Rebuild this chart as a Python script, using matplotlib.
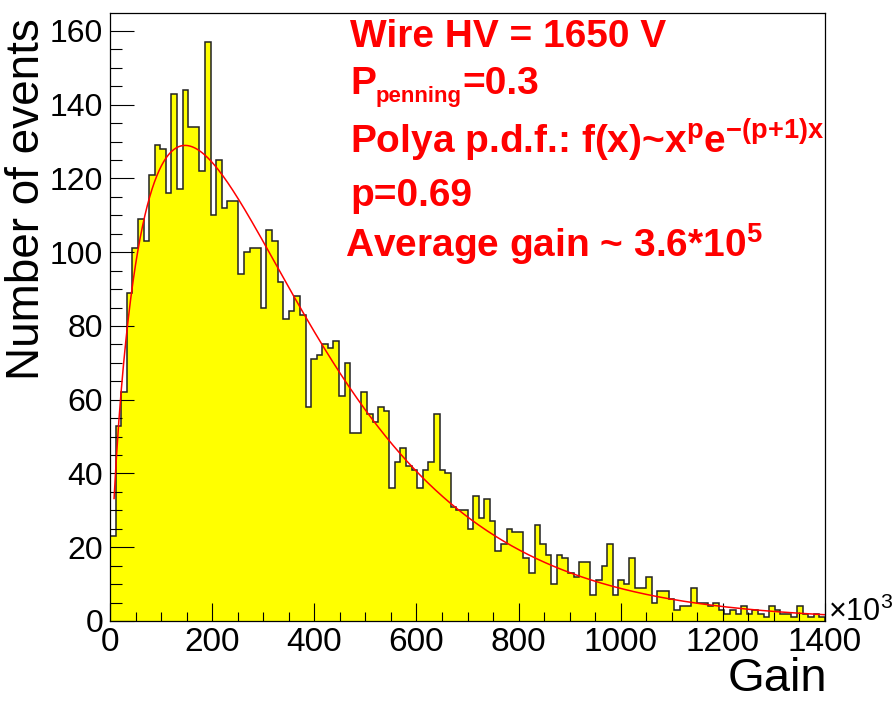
import numpy as np
import matplotlib
matplotlib.use("Agg")
import matplotlib.pyplot as plt
from matplotlib.ticker import MultipleLocator

# gain histogram: 128 bins between 0 and 1400 (x10^3)
n_bins = 128
gain_min = 0
gain_max = 1400
counts = [23, 53, 62, 89, 101, 109, 103, 121, 129, 128,
          116, 143, 117, 144, 134, 134, 122, 157, 110, 125,
          112, 114, 114, 94, 100, 101, 101, 85, 106, 103,
          92, 82, 84, 88, 83, 58, 71, 72, 75, 74,
          76, 61, 70, 51, 51, 62, 56, 54, 58, 57,
          36, 43, 47, 42, 41, 36, 41, 43, 56, 41,
          40, 31, 30, 30, 25, 34, 28, 33, 27, 19,
          21, 25, 24, 24, 17, 13, 26, 21, 18, 10,
          18, 17, 13, 12, 16, 16, 7, 11, 15, 21,
          7, 11, 10, 17, 9, 9, 12, 5, 8, 8,
          6, 3, 4, 4, 9, 5, 5, 4, 5, 3,
          2, 3, 2, 4, 2, 3, 2, 1, 4, 3,
          2, 2, 1, 4, 2, 1, 2, 1]

# polya fit
polya_p = 0.69
mean_gain = 360
polya_norm = 477
fit_start = 8

edges = np.linspace(gain_min, gain_max, n_bins + 1)

plt.rcParams['font.family'] = ['Liberation Sans', 'DejaVu Sans']
plt.rcParams['mathtext.fontset'] = 'custom'
plt.rcParams['mathtext.rm'] = 'Liberation Sans'
plt.rcParams['mathtext.it'] = 'Liberation Sans'
plt.rcParams['mathtext.bf'] = 'Liberation Sans:bold'

W, H = 896, 702
fig = plt.figure(figsize=(W / 100, H / 100), dpi=100)
ax = fig.add_axes([110 / W, (H - 621) / H, 715 / W, 608 / H])

ax.stairs(counts, edges, fill=True, color='#ffff00', lw=0)
ax.stairs(counts, edges, color='#222222', lw=1.1)

xf = np.linspace(fit_start, gain_max, 600)
t = xf / mean_gain
ax.plot(xf, polya_norm * t ** polya_p * np.exp(-(polya_p + 1) * t), color='red', lw=1.1)

ax.set_xlim(gain_min, gain_max)
ax.set_ylim(0, 1.05 * max(counts))

ax.xaxis.set_major_locator(MultipleLocator(200))
ax.xaxis.set_minor_locator(MultipleLocator(50))
ax.yaxis.set_major_locator(MultipleLocator(20))
ax.yaxis.set_minor_locator(MultipleLocator(5))
ax.tick_params(axis='both', which='both', direction='in', top=False, right=False, width=0.8, color='black')
ax.tick_params(axis='y', which='major', length=17, labelsize=23, pad=5)
ax.tick_params(axis='y', which='minor', length=8.5)
ax.tick_params(axis='x', which='major', length=13, labelsize=24, pad=4)
ax.tick_params(axis='x', which='minor', length=6.5)
for s in ax.spines.values():
    s.set_linewidth(0.9)

fig.text(828 / W, 1 - 621 / H, r'×10$^{3}$', fontsize=22, ha='left', va='baseline')
fig.text(827 / W, 1 - 691 / H, 'Gain', fontsize=34, ha='right', va='baseline')
fig.text(27 / W, 1 - 18 / H, 'Number of events', fontsize=33, rotation=90, ha='center', va='top')

red = dict(color='red', fontweight='bold', ha='left', va='baseline')
fig.text(350 / W, 1 - 47 / H, 'Wire HV = 1650 V', fontsize=28, **red)

# P_penning=0.3 built from three pieces so the subscript can be small
renderer = fig.canvas.get_renderer()
p_txt = fig.text(350 / W, 1 - 94 / H, 'P', fontsize=28, **red)
x_next = p_txt.get_window_extent(renderer).x1
sub_txt = fig.text(x_next / W, 1 - 102 / H, 'penning', fontsize=16, **red)
x_next = sub_txt.get_window_extent(renderer).x1
fig.text(x_next / W, 1 - 94 / H, '=0.3', fontsize=28, **red)

fig.text(350 / W, 1 - 154 / H, r'Polya p.d.f.: f(x)~x$^{\mathbf{p}}$e$^{\mathbf{{-}(p{+}1)x}}$', fontsize=28, **red)
fig.text(350 / W, 1 - 206 / H, 'p=0.69', fontsize=28, **red)
fig.text(345 / W, 1 - 257 / H, r'Average gain ~ 3.6*10$^{\mathbf{5}}$', fontsize=28, **red)

fig.savefig('out.png', dpi=100)
